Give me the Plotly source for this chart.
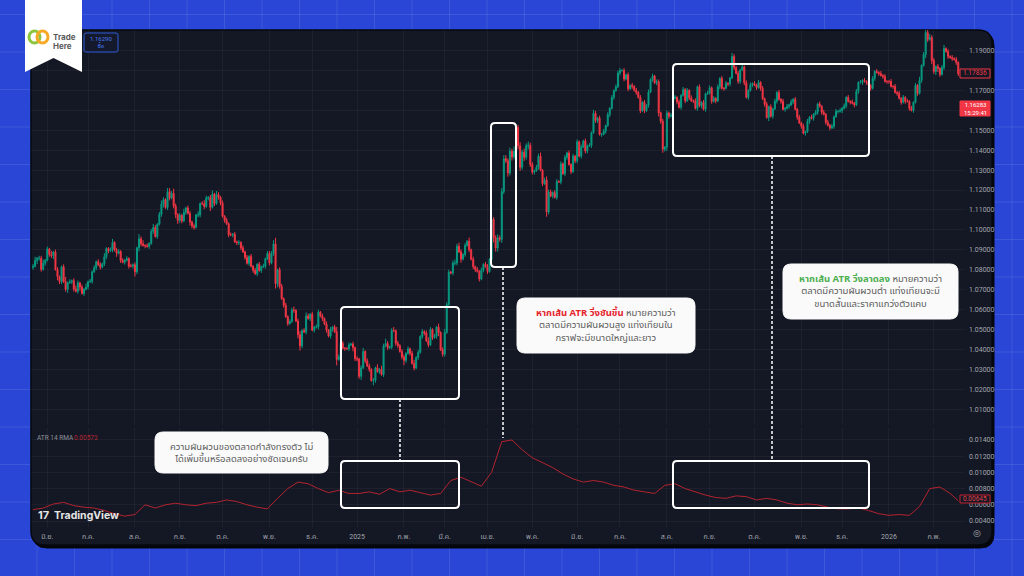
import plotly.graph_objects as go
import pandas as pd

W, H = 1024, 576

# ---------------- data (EURUSD daily) ----------------
first_open_pips = 812
# closes in pips above 1.0000, one per trading day (May 23 2024 -> Feb 18 2026)
closes_pips = [
    817, 847, 858, 858, 802, 833, 848,                                   # May 24
    904, 877, 871, 889, 801, 765, 740, 815, 740, 702, 735, 740, 745, 703, 692, 734, 713, 681, 702, 714,  # Jun
    740, 742, 790, 810, 840, 825, 813, 830, 865, 907, 895, 900, 937, 898, 883, 892, 846, 838, 848, 856, 818, 818, 825,  # Jul
    790, 910, 955, 930, 922, 920, 917, 932, 993, 1012, 967, 1028, 1078, 1130, 1152, 1112, 1192, 1160, 1183, 1120, 1077, 1048,  # Aug
    1073, 1045, 1088, 1110, 1083, 1040, 1020, 1013, 1075, 1075, 1132, 1131, 1117, 1160, 1163, 1113, 1180, 1132, 1177, 1164, 1135,  # Sep
    1068, 1048, 1031, 975, 975, 978, 940, 936, 937, 910, 890, 862, 832, 867, 817, 797, 780, 827, 796, 815, 818, 855, 882,  # Oct
    834, 882, 930, 730, 800, 717, 655, 622, 565, 530, 540, 597, 596, 543, 474, 418, 495, 488, 568, 555, 577,  # Nov
    497, 512, 513, 587, 567, 555, 528, 497, 467, 502, 512, 489, 350, 363, 430, 406, 405, 404, 423, 427, 409, 354,  # Dec
    352, 265, 308, 390, 343, 317, 300, 244, 245, 308, 289, 300, 274, 417, 430, 409, 413, 495, 494, 431, 420, 390, 362,  # Jan 25
    345, 380, 403, 381, 330, 307, 360, 385, 465, 490, 483, 443, 423, 500, 460, 466, 512, 485, 398, 376,  # Feb
    485, 625, 788, 784, 834, 834, 918, 890, 853, 877, 922, 943, 900, 853, 815, 801, 792, 753, 799, 827, 816,  # Mar
    791, 852, 1053, 961, 909, 960, 953, 1192, 1357, 1347, 1285, 1395, 1366, 1395, 1514, 1422, 1314, 1390, 1364, 1422, 1425, 1328,  # Apr
    1290, 1297, 1314, 1370, 1300, 1232, 1250, 1090, 1190, 1170, 1187, 1163, 1243, 1241, 1332, 1282, 1364, 1386, 1328, 1292, 1370, 1347,  # May
    1442, 1370, 1416, 1446, 1396, 1422, 1423, 1488, 1585, 1549, 1561, 1479, 1480, 1495, 1523, 1578, 1610, 1665, 1699, 1718, 1787,  # Jun
    1800, 1800, 1757, 1778, 1708, 1725, 1720, 1700, 1690, 1665, 1598, 1640, 1598, 1625, 1692, 1755, 1772, 1738, 1743, 1587, 1545, 1405, 1415,  # Jul
    1587, 1570, 1575, 1660, 1665, 1642, 1615, 1675, 1705, 1648, 1700, 1663, 1648, 1648, 1610, 1718, 1622, 1640, 1605, 1683, 1685,  # Aug
    1713, 1645, 1660, 1647, 1718, 1760, 1710, 1710, 1735, 1733, 1762, 1870, 1815, 1786, 1745, 1803, 1818, 1738, 1665, 1700, 1728, 1734,  # Sep
    1727, 1714, 1740, 1710, 1658, 1630, 1564, 1618, 1570, 1607, 1646, 1690, 1655, 1645, 1605, 1610, 1620, 1627, 1643, 1655, 1605, 1565, 1537,  # Oct
    1520, 1485, 1493, 1545, 1565, 1560, 1580, 1590, 1632, 1620, 1590, 1580, 1540, 1525, 1512, 1520, 1568, 1595, 1595, 1598,  # Nov
    1610, 1622, 1665, 1645, 1642, 1636, 1627, 1695, 1740, 1740, 1750, 1745, 1740, 1725, 1710, 1760, 1795, 1790, 1785, 1775, 1770, 1745, 1745,  # Dec
    1745, 1720, 1720, 1690, 1685, 1660, 1640, 1665, 1645, 1645, 1610, 1600, 1640, 1725, 1685, 1750, 1825, 1880, 1990, 1955, 1965, 1850,  # Jan 26
    1795, 1820, 1810, 1780, 1815, 1910, 1895, 1870, 1865, 1860, 1855, 1840, 1784,  # Feb 26
]
# upper / lower wick lengths per candle, in units of 6 pips
wick_up = ("2312231" "21312211241212321213" "12121221311231221212121"
           "2142312123212321332421" "213122121312321231321" "21212121212121212121212"
           "223512212122312312321" "2122121212124212112121" "21231221213132421231212"
           "21212312121232121312" "322123232121312121212" "2142232333232432323232"
           "2122312322122121212121" "212121213212121212122" "21212121212121212122121"
           "212121212121212121212" "2121212121132121212121" "21212121212121212121212"
           "12121212121212121212" "12121212121212121212121" "1212121212121213123432"
           "2121231212121")
wick_dn = ("2132212" "12231322123122123121" "21212121222121312121212"
           "4232121212121231221233" "221213221221212312122" "12121212221212121212121"
           "212432121211213421212" "1212121212215131212132" "22312121421212121212212"
           "42121212122121212312" "211122213121212212121" "2124332322323223323232"
           "2212121421212121221212" "212122121221212121211" "21212121212121212123232"
           "321212121212121212121" "1212121212212122121212" "12121213121212121212121"
           "21212121212121212121" "21212121212121212121212" "2121212121212121213213 23"
           "3212121212212")
# ATR 14 RMA, one value every 5 trading days
atr_values = [
    0.0054, 0.0056, 0.0061, 0.0063, 0.0059, 0.0057, 0.0056, 0.0053, 0.0049, 0.0046,
    0.0048, 0.0060, 0.0056, 0.0060, 0.0062, 0.0060, 0.0059, 0.0062, 0.0063, 0.0066,
    0.0064, 0.0060, 0.0057, 0.0055, 0.0068, 0.0080, 0.0088, 0.0086, 0.0080, 0.0075,
    0.0078, 0.0074, 0.0074, 0.0076, 0.0073, 0.0080, 0.0076, 0.0078, 0.0075, 0.0072,
    0.0074, 0.0090, 0.0094, 0.0088, 0.0083, 0.0100, 0.0138, 0.0140, 0.0128, 0.0118,
    0.0112, 0.0106, 0.0098, 0.0092, 0.0088, 0.0090, 0.0088, 0.0084, 0.0082, 0.0078,
    0.0076, 0.0074, 0.0084, 0.0086, 0.0080, 0.0076, 0.0072, 0.0069, 0.0068, 0.0071,
    0.0070, 0.0066, 0.0068, 0.0066, 0.0062, 0.0060, 0.0061, 0.0060, 0.0057, 0.0055,
    0.0055, 0.0056, 0.0053, 0.0049, 0.0047, 0.0048, 0.0047, 0.0058, 0.0080, 0.0082,
    0.0074, 0.0065,
]
month_labels = ["มิ.ย.", "ก.ค.", "ส.ค.", "ก.ย.", "ต.ค.", "พ.ย.", "ธ.ค.", "2025", "ก.พ.", "มี.ค.",
                "เม.ย.", "พ.ค.", "มิ.ย.", "ก.ค.", "ส.ค.", "ก.ย.", "ต.ค.", "พ.ย.", "ธ.ค.", "2026", "ก.พ."]
price_ticks = [1.01, 1.02, 1.03, 1.04, 1.05, 1.06, 1.07, 1.08, 1.09, 1.10,
               1.11, 1.12, 1.13, 1.14, 1.15, 1.16, 1.17, 1.18, 1.19]
price_ticks_hidden = [1.16, 1.18]   # covered by the price tags in the picture
atr_ticks = [0.004, 0.006, 0.008, 0.010, 0.012, 0.014]

# ---------------- build series ----------------
n = len(closes_pips)
dates = pd.bdate_range("2024-05-23", periods=n)
xs = list(range(n))
close = [1 + c / 10000 for c in closes_pips]
opn = [1 + first_open_pips / 10000] + close[:-1]
up = [int(ch) for ch in wick_up.replace(" ", "")]
dn = [int(ch) for ch in wick_dn.replace(" ", "")]
up = (up + [2] * n)[:n]
dn = (dn + [2] * n)[:n]
high = [max(o, c) + u * 0.0006 for o, c, u in zip(opn, close, up)]
low = [min(o, c) - d * 0.0006 for o, c, d in zip(opn, close, dn)]
atr_x = [min(5 * k, n - 1) for k in range(len(atr_values))]

tickvals = []
prev = dates[0].month
for i, d in enumerate(dates):
    if d.month != prev:
        tickvals.append(i)
        prev = d.month

# ---------------- helpers ----------------
def fx(v):
    return v / W


def fy(v):
    return 1 - v / H


def rr(x0, y0, x1, y1, r):
    return (f"M {fx(x0 + r)},{fy(y0)} L {fx(x1 - r)},{fy(y0)} Q {fx(x1)},{fy(y0)} {fx(x1)},{fy(y0 + r)} "
            f"L {fx(x1)},{fy(y1 - r)} Q {fx(x1)},{fy(y1)} {fx(x1 - r)},{fy(y1)} "
            f"L {fx(x0 + r)},{fy(y1)} Q {fx(x0)},{fy(y1)} {fx(x0)},{fy(y1 - r)} "
            f"L {fx(x0)},{fy(y0 + r)} Q {fx(x0)},{fy(y0)} {fx(x0 + r)},{fy(y0)} Z")


shapes = []
# blue background grid
for k in range(28):
    xv = 37 + 37.5 * (k - 1)
    shapes.append(dict(type="line", xref="paper", yref="paper", x0=fx(xv), x1=fx(xv), y0=0, y1=1,
                       line=dict(color="rgba(255,255,255,0.10)", width=1), layer="below"))
for k in range(17):
    yv = 14.5 + 37.5 * k
    shapes.append(dict(type="line", xref="paper", yref="paper", x0=0, x1=1, y0=fy(yv), y1=fy(yv),
                       line=dict(color="rgba(255,255,255,0.10)", width=1), layer="below"))
# panel shadow + dark chart panel
shapes.append(dict(type="path", xref="paper", yref="paper", path=rr(33, 32, 994, 548, 14),
                   fillcolor="#05070c", line=dict(color="#05070c", width=1), layer="below"))
shapes.append(dict(type="path", xref="paper", yref="paper", path=rr(31, 30, 992, 545, 14),
                   fillcolor="#141824", line=dict(color="#06080e", width=1.5), layer="below"))

# white highlight boxes
for (a, b, c, d) in [(341, 307, 459, 399), (341, 461, 459, 508), (491, 123, 516, 267),
                     (673, 64, 869, 156), (673, 461, 869, 508)]:
    shapes.append(dict(type="path", xref="paper", yref="paper", path=rr(a, b, c, d, 4),
                       line=dict(color="white", width=2), fillcolor="rgba(0,0,0,0)", layer="above"))
# dashed connectors
for (xv, y0, y1) in [(400, 399, 461), (503, 267, 438), (772, 156, 461)]:
    shapes.append(dict(type="line", xref="paper", yref="paper", x0=fx(xv), x1=fx(xv), y0=fy(y0), y1=fy(y1),
                       line=dict(color="white", width=1.5, dash="3px,2px"), layer="above"))
# callout boxes
for (a, b, c, d) in [(155, 432, 328, 473), (517, 298, 695, 353), (783, 264, 958, 319)]:
    shapes.append(dict(type="path", xref="paper", yref="paper", path=rr(a, b, c, d, 8),
                       fillcolor="#fafafa", line=dict(color="#fafafa", width=1), layer="above"))
# logo ribbon
shapes.append(dict(type="path", xref="paper", yref="paper",
                   path=f"M {fx(25)},{fy(0)} L {fx(82)},{fy(0)} L {fx(82)},{fy(72)} L {fx(53.5)},{fy(58)} L {fx(25)},{fy(72)} Z",
                   fillcolor="white", line=dict(color="white", width=0), layer="above"))
shapes.append(dict(type="circle", xref="paper", yref="paper", x0=fx(29), x1=fx(40), y0=fy(43), y1=fy(31),
                   line=dict(color="#8cc63f", width=3), layer="above"))
shapes.append(dict(type="circle", xref="paper", yref="paper", x0=fx(37), x1=fx(48), y0=fy(43), y1=fy(31),
                   line=dict(color="#f7a824", width=3), layer="above"))
# buy button
shapes.append(dict(type="path", xref="paper", yref="paper", path=rr(84, 33, 118, 52, 2),
                   fillcolor="#141a2c", line=dict(color="#2f5bd8", width=1), layer="above"))
# price tags
shapes.append(dict(type="rect", xref="paper", yref="paper", x0=fx(960), x1=fx(990), y0=fy(69), y1=fy(78),
                   fillcolor="#141824", line=dict(color="#f23645", width=1), layer="above"))
shapes.append(dict(type="rect", xref="paper", yref="paper", x0=fx(960), x1=fx(990), y0=fy(101), y1=fy(116),
                   fillcolor="#f23645", line=dict(color="#f23645", width=1), layer="above"))
shapes.append(dict(type="rect", xref="paper", yref="paper", x0=fx(960), x1=fx(990), y0=fy(495), y1=fy(503),
                   fillcolor="#141824", line=dict(color="#c2202f", width=1), layer="above"))

THAI = "Noto Sans Thai, Noto Sans Thai Looped, Noto Sans, sans-serif"
TXT = "#5d5d5d"


def ann(x, y, text, size=9, color=TXT, xanchor="center", family=THAI, align="center"):
    return dict(x=fx(x), y=fy(y), xref="paper", yref="paper", text=text, showarrow=False,
                xanchor=xanchor, yanchor="middle", align=align,
                font=dict(size=size, color=color, family=family))


annotations = [
    ann(241.5, 452.5, "ความผันผวนของตลาดกำลังทรงตัว ไม่<br>ได้เพิ่มขึ้นหรือลดลงอย่างชัดเจนครับ", size=9.5),
    ann(606, 325.5, '<span style="color:#e5232b"><b>หากเส้น ATR วิ่งชันขึ้น</b></span> หมายความว่า<br>'
                    'ตลาดมีความผันผวนสูง แท่งเทียนใน<br>กราฟจะมีขนาดใหญ่และยาว', size=9.5),
    ann(870.5, 291.5, '<span style="color:#4caf50"><b>หากเส้น ATR วิ่งลาดลง</b></span> หมายความว่า<br>'
                      'ตลาดมีความผันผวนต่ำ แท่งเทียนจะมี<br>ขนาดสั้นและราคาแกว่งตัวแคบ', size=9.5),
    ann(51, 37, "<b>Trade</b>", size=8, color="#5a5a5a", xanchor="left", family="Inter, Roboto, sans-serif"),
    ann(51, 46, "<b>Here</b>", size=8, color="#5a5a5a", xanchor="left", family="Inter, Roboto, sans-serif"),
    ann(101, 38.5, "1.16290", size=6, color="#4a78f0", family="Roboto, sans-serif"),
    ann(101, 46.5, "ซื้อ", size=6, color="#4a78f0"),
    ann(975, 73.5, "1.17836", size=6.5, color="#f23645", family="Roboto, sans-serif"),
    ann(975, 108.5, "1.16283<br>15:29:41", size=6, color="white", family="Roboto, sans-serif"),
    ann(975, 499, "0.00645", size=6.5, color="#e0404d", family="Roboto, sans-serif"),
    ann(35, 438, "ATR 14 RMA", size=6.5, color="#8f929b", xanchor="left", family="Roboto, sans-serif"),
    ann(72, 438, "0.00573", size=6.5, color="#b52533", xanchor="left", family="Roboto, sans-serif"),
    ann(36, 515, "<b>17</b>", size=11, color="#e6e6e6", xanchor="left", family="Inter, Roboto, sans-serif"),
    ann(52, 515, "<b>TradingView</b>", size=10.5, color="#e6e6e6", xanchor="left", family="Inter, Roboto, sans-serif"),
    ann(977, 533, "◎", size=9, color="#a3a6af", family="DejaVu Sans"),
]

fig = go.Figure()
fig.add_trace(go.Candlestick(
    x=xs, open=opn, high=high, low=low, close=close, xaxis="x", yaxis="y",
    increasing=dict(line=dict(color="#089981", width=1), fillcolor="#089981"),
    decreasing=dict(line=dict(color="#f23645", width=1), fillcolor="#f23645"),
    whiskerwidth=0, showlegend=False, hoverinfo="skip"))
fig.add_trace(go.Scatter(x=atr_x, y=atr_values, xaxis="x2", yaxis="y2", mode="lines",
                         line=dict(color="#b3232f", width=1), showlegend=False, hoverinfo="skip"))

GRID = "rgba(255,255,255,0.045)"
TICKFONT = dict(size=7, color="#a3a6af", family="Roboto, Noto Sans Thai, sans-serif")
xdom = [31 / W, 965 / W]
xr = [-1, 457.3]
fig.update_layout(
    width=W, height=H, margin=dict(l=0, r=0, t=0, b=0),
    paper_bgcolor="#2946d6", plot_bgcolor="rgba(0,0,0,0)",
    shapes=shapes, annotations=annotations,
    xaxis=dict(domain=xdom, range=xr, anchor="y", tickvals=tickvals, showticklabels=False,
               showgrid=True, gridcolor=GRID, zeroline=False, showline=False,
               rangeslider=dict(visible=False), fixedrange=True),
    xaxis2=dict(domain=xdom, range=xr, anchor="y2", tickvals=tickvals, ticktext=month_labels,
                showgrid=True, gridcolor=GRID, zeroline=False, showline=False, ticks="",
                tickfont=TICKFONT, ticklabelstandoff=4, fixedrange=True),
    yaxis=dict(domain=[1 - 425 / H, 1 - 30 / H], range=[1.0021, 1.2003], side="right", anchor="x",
               tickvals=price_ticks,
               ticktext=["" if v in price_ticks_hidden else f"{v:.5f}" for v in price_ticks],
               showgrid=True, gridcolor=GRID, zeroline=False, showline=False, ticks="",
               tickfont=TICKFONT, ticklabelstandoff=3, fixedrange=True),
    yaxis2=dict(domain=[1 - 527 / H, 1 - 428 / H], range=[0.00326, 0.01548], side="right", anchor="x2",
                tickvals=atr_ticks, ticktext=[f"{v:.5f}" for v in atr_ticks],
                showgrid=True, gridcolor=GRID, zeroline=False, showline=False, ticks="",
                tickfont=TICKFONT, ticklabelstandoff=3, fixedrange=True),
)

fig.write_html("out.html", config={"displayModeBar": False},
               post_script="document.body.style.margin='0px';document.body.style.overflow='hidden';")
